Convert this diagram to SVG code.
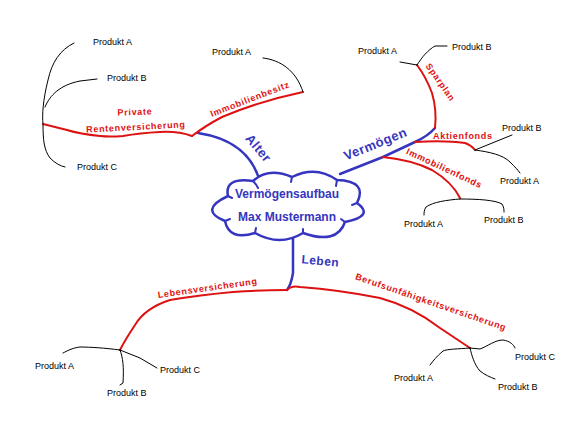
<svg xmlns="http://www.w3.org/2000/svg" width="588" height="427" viewBox="0 0 588 427">
<style>
.b{fill:none;stroke:#3535c0;stroke-width:2.5;stroke-linecap:round;stroke-linejoin:round}
.r{fill:none;stroke:#dd1111;stroke-width:2;stroke-linecap:round;stroke-linejoin:round}
.k{fill:none;stroke:#000;stroke-width:1;stroke-linecap:round}
.p{font-family:"Liberation Sans",Arial,sans-serif;font-size:9px;fill:#000}
.rt{font-family:"Liberation Sans",Arial,sans-serif;font-size:9px;font-weight:bold;fill:#e01010;letter-spacing:0.7px}
.bt{font-family:"Liberation Sans",Arial,sans-serif;font-size:13px;font-weight:bold;fill:#3535c0;letter-spacing:0.5px}
.ct{font-family:"Liberation Sans",Arial,sans-serif;font-size:12px;font-weight:bold;fill:#3535c0;text-anchor:middle}
</style>
<rect width="588" height="427" fill="#fff"/>
<g id="connectors">
<path class="b" d="M198,133 C230,138 252,152 260,182"/>
<path class="b" d="M340,174 L383,157 L415,142 Q428,136 435,128"/>
<path class="b" d="M293,238 L293,273 Q291,285 287,290"/>
<path class="r" d="M192,136 Q178,131 160,132 Q140,133 123,136 Q110,137 100,136 Q80,134 67,130 L43,124"/>
<path class="r" d="M192,136 Q205,126 222,117 Q260,101 303,92"/>
<path class="r" d="M435,128 Q437,110 432,93 Q426,77 417,65"/>
<path class="r" d="M415,142 Q445,140 465,143 Q471,145 475,150"/>
<path class="r" d="M383,157 Q412,160 432,170 Q452,182 460,198"/>
<path class="r" d="M287,290 Q260,290 233,292 Q200,295 170,300 Q145,308 135,325 Q125,340 120,350"/>
<path class="r" d="M287,290 Q292,285 300,287 Q340,290 380,298 Q413,307 440,328 L470,348"/>
<path class="k" d="M74,43 C60,50 52,62 48,80 C43,100 42,115 43,124 C43,140 44,150 50,158 C55,163 60,166 65,167"/>
<path class="k" d="M45,107 C50,95 60,85 80,81 L97,79"/>
<path class="k" d="M263,58 C280,60 296,70 303,92"/>
<path class="k" d="M417,65 L400,62"/>
<path class="k" d="M417,65 C422,57 428,50 435,46 L447,46"/>
<path class="k" d="M475,150 L512,135"/>
<path class="k" d="M475,150 C490,152 503,155 510,162 C515,167 518,170 520,173"/>
<path class="k" d="M460,199 C447,200 433,202 426,207 C424,210 424,213 424,215"/>
<path class="k" d="M460,199 C478,199 495,200 502,204 C504,207 504,210 504,212"/>
<path class="k" d="M120,350 C105,348 90,347 80,347 C72,348 67,351 63,353"/>
<path class="k" d="M120,350 C123,358 124,367 123,383 L120,385"/>
<path class="k" d="M120,350 L140,358 L157,368"/>
<path class="k" d="M470,348 C458,349 447,349 443,351 C437,356 433,361 430,365"/>
<path class="k" d="M470,348 C472,356 474,364 480,371 C485,375 490,377 495,379"/>
<path class="k" d="M470,348 L480,349 C488,346 495,340 503,340 C510,341 514,345 515,348"/>
</g>
<g id="center">
<path d="M228,196 Q224,177 253,181 Q268,167 292,177 Q316,165 337,180 Q368,181 357,203 Q375,216 345,222 Q337,245 303,233 Q280,247 255,233 Q229,241 225,221 Q198,210 228,196 Z" fill="#fff" stroke="#3535c0" stroke-width="2.5" stroke-linejoin="round"/>
<path d="M253,181 Q256,184 258,188 M292,177 L291,182 M337,180 L336,186 M357,203 L352,205 M345,222 L341,219 M303,233 L303,229 M255,233 L256,228 M225,221 L230,219 M228,196 L232,198" fill="none" stroke="#3535c0" stroke-width="2" stroke-linecap="round"/>
<text class="ct" x="287" y="198">Vermögensaufbau</text>
<text class="ct" x="287" y="221">Max Mustermann</text>
</g>
<g id="alter"><text class="bt" transform="translate(255,151) rotate(50)" text-anchor="middle">Alter</text></g>
<g id="vermoegen"><text class="bt" transform="translate(377,148) rotate(-22)" text-anchor="middle">Vermögen</text></g>
<g id="leben"><text class="bt" style="font-size:12px" transform="translate(320,265) rotate(5)" text-anchor="middle">Leben</text></g>
<g id="private"><text class="rt" transform="translate(135,115) rotate(-2)" text-anchor="middle">Private</text><text class="rt" transform="translate(136,130) rotate(-3)" text-anchor="middle">Rentenversicherung</text></g>
<g id="immobilienbesitz"><text class="rt" transform="translate(251,102) rotate(-21)" text-anchor="middle">Immobilienbesitz</text></g>
<g id="sparplan"><text class="rt" transform="translate(438,84) rotate(55)" text-anchor="middle">Sparplan</text></g>
<g id="aktienfonds"><text class="rt" x="433" y="139">Aktienfonds</text></g>
<g id="immobilienfonds"><text class="rt" transform="translate(443,171) rotate(25)" text-anchor="middle">Immobilienfonds</text></g>
<g id="lebensversicherung"><text class="rt" transform="translate(208,291) rotate(-8)" text-anchor="middle">Lebensversicherung</text></g>
<g id="berufs"><text class="rt" transform="translate(430,305) rotate(19)" text-anchor="middle">Berufsunfähigkeitsversicherung</text></g>
<g id="produkte">
<text class="p" x="93" y="45">Produkt A</text>
<text class="p" x="107" y="81">Produkt B</text>
<text class="p" x="77" y="170">Produkt C</text>
<text class="p" x="212" y="55">Produkt A</text>
<text class="p" x="358" y="54">Produkt A</text>
<text class="p" x="452" y="50">Produkt B</text>
<text class="p" x="502" y="131">Produkt B</text>
<text class="p" x="500" y="184">Produkt A</text>
<text class="p" x="404" y="227">Produkt A</text>
<text class="p" x="484" y="223">Produkt B</text>
<text class="p" x="35" y="369">Produkt A</text>
<text class="p" x="107" y="396">Produkt B</text>
<text class="p" x="160" y="373">Produkt C</text>
<text class="p" x="394" y="381">Produkt A</text>
<text class="p" x="498" y="390">Produkt B</text>
<text class="p" x="515" y="360">Produkt C</text>
</g>
</svg>
